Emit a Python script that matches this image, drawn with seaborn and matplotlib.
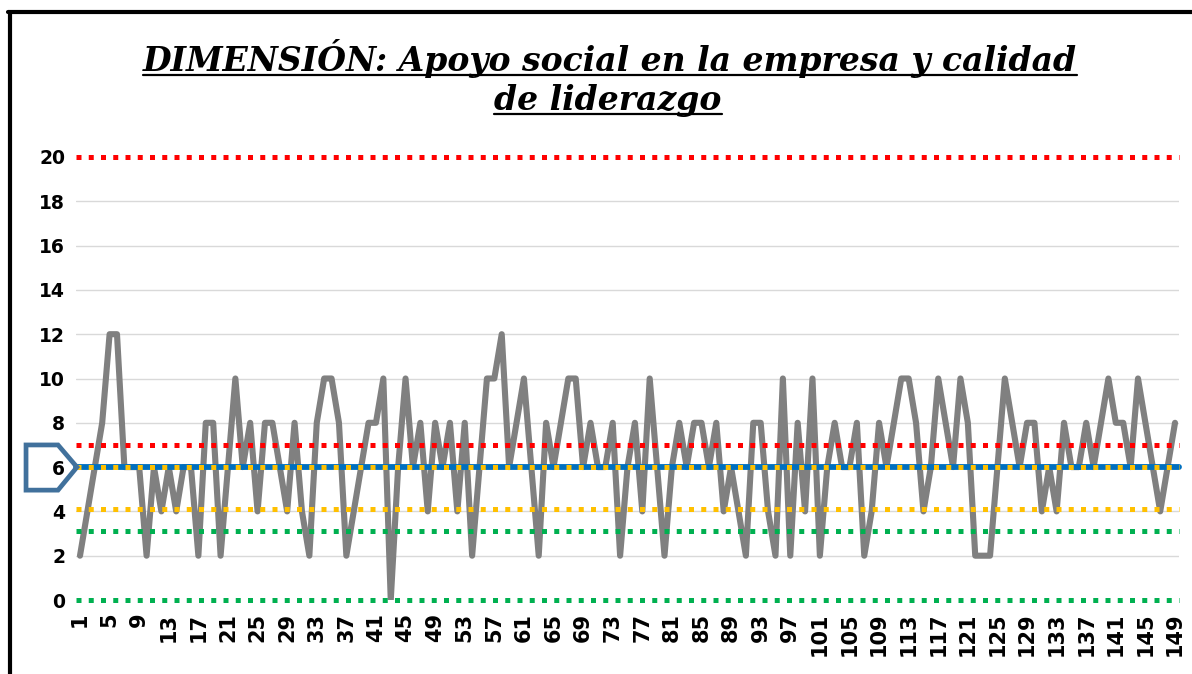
import numpy as np
import pandas as pd
import seaborn as sns
import matplotlib.pyplot as plt
from matplotlib.lines import Line2D
from matplotlib.patches import Polygon
import matplotlib.transforms as mtransforms

# puntajes por trabajador (1..149)
scores = [2, 4, 6, 8, 12, 12, 6, 6, 6, 2,
          6, 4, 6, 4, 6, 6, 2, 8, 8, 2,
          6, 10, 6, 8, 4, 8, 8, 6, 4, 8,
          4, 2, 8, 10, 10, 8, 2, 4, 6, 8,
          8, 10, 0, 6, 10, 6, 8, 4, 8, 6,
          8, 4, 8, 2, 6, 10, 10, 12, 6, 8,
          10, 6, 2, 8, 6, 8, 10, 10, 6, 8,
          6, 6, 8, 2, 6, 8, 4, 10, 6, 2,
          6, 8, 6, 8, 8, 6, 8, 4, 6, 4,
          2, 8, 8, 4, 2, 10, 2, 8, 4, 10,
          2, 6, 8, 6, 6, 8, 2, 4, 8, 6,
          8, 10, 10, 8, 4, 6, 10, 8, 6, 10,
          8, 2, 2, 2, 6, 10, 8, 6, 8, 8,
          4, 6, 4, 8, 6, 6, 8, 6, 8, 10,
          8, 8, 6, 10, 8, 6, 4, 6, 8]
workers = list(range(1, len(scores) + 1))

# niveles de referencia (punteados) y mediana (linea azul)
red_levels = [20, 7]
yellow_levels = [6, 4.1]
green_levels = [3.1, 0]
median_level = 6

title_line1 = "DIMENSIÓN: Apoyo social en la empresa y calidad"
title_line2 = "de liderazgo"

df = pd.DataFrame({"trabajador": workers, "puntaje": scores})

sns.set_style("white")
plt.rcParams["text.color"] = "black"
plt.rcParams["xtick.color"] = "black"
plt.rcParams["ytick.color"] = "black"

W, H = 1192, 674
fig = plt.figure(figsize=(W / 100, H / 100), dpi=100)
ax = fig.add_axes([76.3 / W, 1 - 600 / H, 1102.4 / W, 443 / H])

for y in range(2, 20, 2):
    ax.axhline(y, color="#D9D9D9", lw=1, zorder=0)

sns.lineplot(data=df, x="trabajador", y="puntaje", color="#808080",
             linewidth=4.4, ax=ax, zorder=2)

ax.axhline(median_level, color="#0070C0", lw=4.2, zorder=3, clip_on=False)
dot = dict(lw=3.6, linestyle=(0, (1, 1.45)), dash_capstyle="butt",
           zorder=4, clip_on=False)
for y in red_levels:
    ax.axhline(y, color="#FF0000", **dot)
for y in yellow_levels:
    ax.axhline(y, color="#FFC000", **dot)
for y in green_levels:
    ax.axhline(y, color="#00B050", **dot)

ax.set_xlim(0.5, len(scores) + 0.5)
ax.set_ylim(0, 20)
ax.set_yticks(range(0, 21, 2))
ax.set_xticks(workers[::4])
ax.set_xticklabels([str(w) for w in workers[::4]], rotation=90,
                   fontsize=15, fontweight="bold", family="DejaVu Sans")
ax.tick_params(axis="x", length=0, pad=9)
ax.tick_params(axis="y", length=0, pad=8, labelsize=13.5)
for lab in ax.get_yticklabels():
    lab.set_fontweight("bold")
ax.set_xlabel("")
ax.set_ylabel("")
for s in ax.spines.values():
    s.set_visible(False)

# etiqueta resaltada del valor 6
trans = mtransforms.blended_transform_factory(ax.transAxes, ax.transData)
callout = Polygon([(-0.0456, median_level + 1.0), (-0.0166, median_level + 1.0),
                   (0.0006, median_level), (-0.0166, median_level - 1.04),
                   (-0.0456, median_level - 1.04)],
                  closed=True, fill=False, edgecolor="#41719C", lw=3.4,
                  transform=trans, clip_on=False, zorder=5)
ax.add_patch(callout)

# marco
fig.add_artist(Line2D([8 / W, 1], [1 - 12 / H, 1 - 12 / H], color="black", lw=3))
fig.add_artist(Line2D([9.5 / W, 9.5 / W], [0, 1 - 12 / H], color="black", lw=3))

tfont = dict(family="DejaVu Serif", fontweight="bold", style="italic",
             fontsize=23.8, ha="center", va="baseline", color="black")
t1 = fig.text(610 / W, 1 - 71 / H, title_line1, **tfont)
t2 = fig.text(608 / W, 1 - 110 / H, title_line2, **tfont)

fig.canvas.draw()
for t, base in [(t1, 71), (t2, 110)]:
    bb = t.get_window_extent()
    yy = 1 - (base + 4) / H
    fig.add_artist(Line2D([bb.x0 / W, bb.x1 / W], [yy, yy], color="black", lw=1.6))

fig.savefig("out.png", dpi=100)
